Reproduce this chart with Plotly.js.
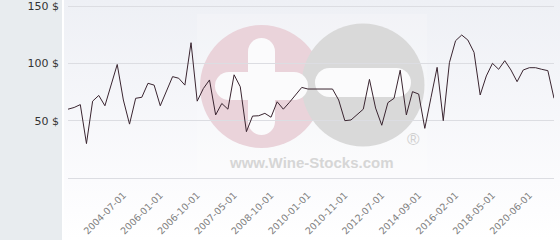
<!DOCTYPE html>
<html>
<head>
<meta charset="utf-8">
<script src="https://cdn.plot.ly/plotly-3.0.1.min.js"></script>
<style>html,body{margin:0;padding:0;background:#fff;}#chart{width:560px;height:240px;}</style>
</head>
<body>
<div id="chart"></div>
<script>
// Category dates (one per point)
var dates = [
  "2002-04-01","2002-07-01","2002-10-01","2003-01-01","2003-04-01","2003-07-01","2003-10-01","2004-01-01","2004-04-01",
  "2004-07-01","2004-10-01","2005-01-01","2005-04-01","2005-07-01","2005-10-01",
  "2006-01-01","2006-03-01","2006-04-01","2006-06-01","2006-07-01","2006-09-01",
  "2006-10-01","2006-11-01","2006-12-01","2007-01-01","2007-02-01","2007-03-01",
  "2007-05-01","2007-08-01","2007-11-01","2008-01-01","2008-04-01","2008-07-01",
  "2008-10-01","2008-12-01","2009-03-01","2009-05-01","2009-08-01","2009-10-01",
  "2010-01-01","2010-02-01","2010-04-01","2010-05-01","2010-07-01","2010-09-01",
  "2010-11-01","2011-02-01","2011-05-01","2011-09-01","2011-12-01","2012-03-01",
  "2012-07-01","2012-11-01","2013-04-01","2013-08-01","2013-12-01","2014-04-01",
  "2014-09-01","2014-12-01","2015-03-01","2015-06-01","2015-09-01","2015-11-01",
  "2016-02-01","2016-06-01","2016-11-01","2017-03-01","2017-07-01","2017-11-01",
  "2018-05-01","2018-09-01","2019-01-01","2019-05-01","2019-09-01","2020-01-01",
  "2020-06-01","2020-10-01","2021-02-01","2021-06-01","2021-10-01"
];
// Price series ($)
var prices = [
  60, 61.5, 64, 30, 67, 72, 63, 81, 99, 68,
  47, 69.5, 70.4, 82.6, 81, 63, 75, 88.4, 87, 81,
  118, 67, 78, 85.5, 55, 65, 60, 90, 79.6, 40.4,
  54, 54.3, 56.4, 53, 66.5, 60, 66, 72.4, 79, 77.6,
  77.6, 77.6, 77.6, 77.6, 68, 50, 50.6, 55, 60, 86,
  61, 46, 65.7, 69.5, 94, 55, 75.3, 73.2, 43.3, 70,
  96.5, 50, 100.6, 119.7, 124.7, 120.3, 109.6, 72.4, 89, 100,
  94.8, 102.3, 94.2, 84, 94.2, 96.2, 96.2, 94.8, 93.6, 69.5
];
// Tick labels shown on the x axis
var xTickLabels = ["2004-07-01","2006-01-01","2006-10-01","2007-05-01","2008-10-01","2010-01-01",
  "2010-11-01","2012-07-01","2014-09-01","2016-02-01","2018-05-01","2020-06-01"];
// Y tick values and labels
var yTickVals = [50, 100, 150];
var yTickText = ["50 $", "100 $", "150 $"];

// background + watermark graphics (pixel coordinates of the 560x240 canvas)
var bgSvg = '<svg xmlns="http://www.w3.org/2000/svg" width="560" height="240" viewBox="0 0 560 240">' +
  '<defs><linearGradient id="g" x1="0" y1="0" x2="0" y2="1">' +
  '<stop offset="0" stop-color="#eef0f5"/><stop offset="0.75" stop-color="#fbfbfd"/><stop offset="1" stop-color="#ffffff"/></linearGradient></defs>' +
  '<rect x="0" y="0" width="560" height="240" fill="#ffffff"/>' +
  '<rect x="64" y="0" width="496" height="240" fill="url(#g)"/>' +
  '<rect x="0" y="0" width="62" height="240" fill="#e8ecef"/>' +
  '<rect x="197" y="14" width="230" height="163" fill="#ffffff" fill-opacity="0.2"/>' +
  '<circle cx="261.5" cy="86.5" r="61.5" fill="#ead3da"/>' +
  '<circle cx="363" cy="85" r="61.5" fill="#d9d9d9"/>' +
  '<rect x="248" y="38" width="27" height="97" rx="13.5" fill="#fbfbfc"/>' +
  '<rect x="215" y="72" width="93" height="28" rx="14" fill="#fbfbfc"/>' +
  '<rect x="315" y="68" width="96" height="29" rx="14.5" fill="#fbfbfc"/>' +
  '</svg>';
var bgUri = 'data:image/svg+xml;charset=utf-8,' + encodeURIComponent(bgSvg);

var L = 68, R = 6, T = 0, B = 62;
var W = 560 - L - R, H = 240 - T - B;
function px(x) { return (x - L) / W; }
function py(y) { return (240 - B - y) / H; }

var trace = {
  type: 'scatter', mode: 'lines',
  x: dates, y: prices,
  line: {color: '#3a2530', width: 1},
  hoverinfo: 'x+y'
};

var layout = {
  width: 560, height: 240,
  margin: {l: L, r: R, t: T, b: B, pad: 0},
  paper_bgcolor: '#ffffff',
  plot_bgcolor: 'rgba(0,0,0,0)',
  showlegend: false,
  font: {family: 'DejaVu Sans', size: 11, color: '#333'},
  xaxis: {
    type: 'category',
    range: [0, dates.length - 1],
    tickmode: 'array', tickvals: xTickLabels, ticktext: xTickLabels,
    tickangle: -45,
    tickfont: {family: 'DejaVu Sans', size: 9.5, color: '#808080'},
    showgrid: false, zeroline: false,
    showline: true, linecolor: '#dcdde2', linewidth: 1,
    ticks: '', ticklabelstandoff: 7,
    ticklabeloverflow: 'allow',
    fixedrange: true
  },
  yaxis: {
    range: [0, 150 * 178 / 172],
    tickmode: 'array', tickvals: yTickVals, ticktext: yTickText,
    tickfont: {family: 'DejaVu Sans', size: 11, color: '#333'},
    showgrid: true, gridcolor: '#dcdde2', gridwidth: 1,
    zeroline: false, showline: false, ticks: '',
    ticklabelstandoff: 8,
    ticklabeloverflow: 'allow',
    fixedrange: true
  },
  images: [{
    source: bgUri, xref: 'paper', yref: 'paper',
    x: px(0), y: py(0), sizex: 560 / W, sizey: 240 / H,
    xanchor: 'left', yanchor: 'top', sizing: 'stretch', layer: 'below'
  }],
  annotations: [
    {text: '<b>www.Wine-Stocks.com</b>', xref: 'paper', yref: 'paper', x: px(311.5), y: py(162),
     xanchor: 'center', yanchor: 'middle', showarrow: false,
     font: {family: 'Liberation Sans', size: 15, color: '#d6d6d6'}},
    {text: '®', xref: 'paper', yref: 'paper', x: px(413), y: py(139),
     xanchor: 'center', yanchor: 'middle', showarrow: false,
     font: {family: 'Liberation Sans', size: 17, color: '#d0d0d0'}}
  ]
};

Plotly.newPlot('chart', [trace], layout, {displayModeBar: false, staticPlot: true});
</script>
</body>
</html>
